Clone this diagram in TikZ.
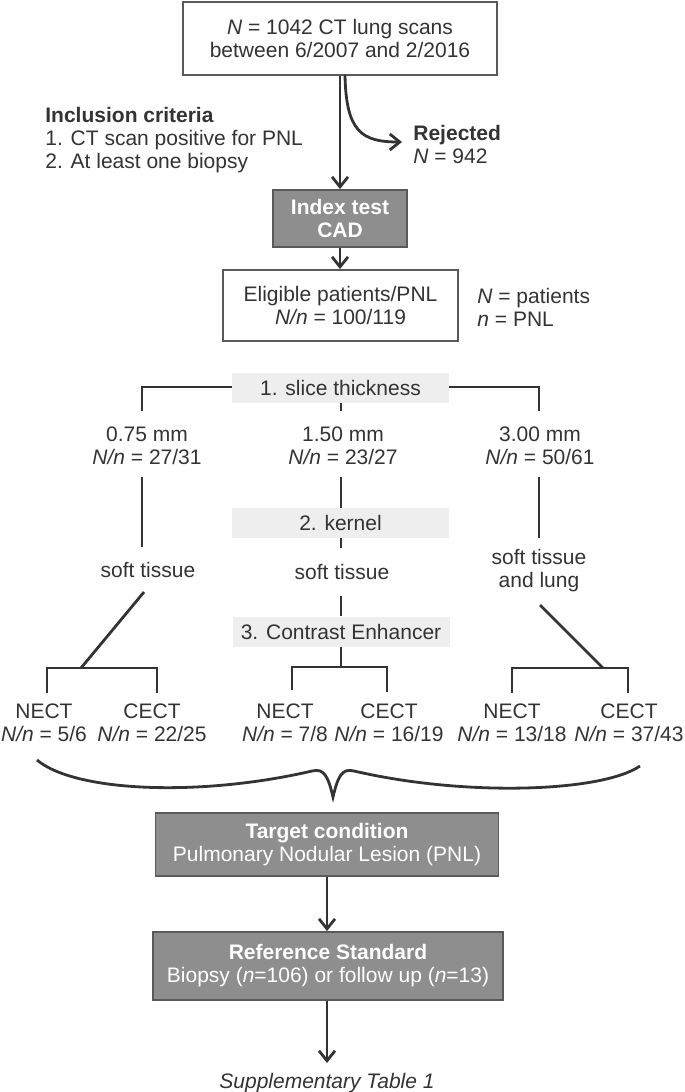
\documentclass[tikz,border=0pt]{standalone}
\usepackage{fontspec}
\setmainfont{Liberation Sans}
\usetikzlibrary{arrows.meta}
\definecolor{ink}{HTML}{333333}
\definecolor{darkfill}{HTML}{8E8E8E}
\definecolor{darkedge}{HTML}{5A5A5A}
\definecolor{lightfill}{HTML}{EEEEEE}
\begin{document}
\begin{tikzpicture}[x=0.5pt,y=-0.5pt,
  every node/.style={font=\fontsize{10.5}{11.5}\selectfont, text=ink, inner sep=0pt},
  whitebox/.style={draw=darkedge, line width=0.9pt, fill=white, align=center},
  darkbox/.style={draw=darkedge, line width=0.9pt, fill=darkfill, text=white, align=center},
  labelbox/.style={fill=lightfill, minimum width=108.5pt, minimum height=15pt},
  txt/.style={align=center},
  ltxt/.style={align=left, anchor=west},
  conn/.style={draw=ink, line width=1.4pt},
  arr/.style={conn, -{Straight Barb[length=5pt,width=8pt]}},
]
\useasboundingbox (0,0) rectangle (685,1092);

% top part
\node[whitebox, minimum width=157pt, minimum height=36.5pt] (top) at (340,38.5)
  {\textit{N} = 1042 CT lung scans\\between 6/2007 and 2/2016};
\node[ltxt] (incl) at (45,140) {\textbf{Inclusion criteria}\\1. CT scan positive for PNL\\2. At least one biopsy};
\node[ltxt] (rej) at (413,144) {\textbf{Rejected}\\\textit{N} = 942};
\coordinate (rejtip) at (402,142);
\coordinate (rejstart) at (345,75);
\node[darkbox, minimum width=67pt, minimum height=28.5pt] (index) at (340,218.5)
  {\textbf{Index test}\\\textbf{CAD}};
\node[whitebox, minimum width=117.5pt, minimum height=35.5pt] (elig) at (340.5,305.5)
  {Eligible patients/PNL\\\textit{N/n} = 100/119};
\node[ltxt] (legend) at (477,307.5) {\textit{N} = patients\\\textit{n} = PNL};

\draw[arr] (top.south) -- (index.north);
\draw[arr] (rejstart) .. controls (346,132) and (362,142) .. (rejtip);
\draw[arr] (index.south) -- (index.south |- elig.north);

% slice thickness
\node[labelbox] (slice) at (340.5,388) {1. slice thickness};
\coordinate (sL) at (142,411);
\coordinate (sM) at (341,411);
\coordinate (sR) at (539,411);
\draw[conn] (slice.west |- 0,387) -| (sL);
\draw[conn] (slice.east |- 0,387) -| (sR);
\draw[conn] (slice.south -| sM) -- (sM);

\node[txt] (t075) at (147,445.5) {0.75 mm\\\textit{N/n} = 27/31};
\node[txt] (t150) at (343,445.5) {1.50 mm\\\textit{N/n} = 23/27};
\node[txt] (t300) at (540,445.5) {3.00 mm\\\textit{N/n} = 50/61};

\node[labelbox] (kernel) at (340.5,523) {2. kernel};
\node[txt] (k1) at (148,570) {soft tissue};
\node[txt] (k2) at (342,572) {soft tissue};
\node[txt] (k3) at (539,571) {soft tissue\\and lung};

\coordinate (a1) at (142,477); \coordinate (a2) at (142,547);
\coordinate (b1) at (341,477);
\coordinate (c1) at (539,477); \coordinate (c2) at (539,538);
\draw[conn] (a1) -- (a2);
\draw[conn] (b1) -- (b1 |- kernel.north);
\draw[conn] (c1) -- (c2);
\coordinate (b2) at (341,548);
\draw[conn] (kernel.south -| b2) -- (b2);

\node[labelbox] (contrast) at (341,631.5) {3. Contrast Enhancer};
\coordinate (b3) at (341,596);
\draw[conn] (b3) -- (b3 |- contrast.north);

% brackets
\coordinate (Lj) at (81,668);
\coordinate (Mj) at (341,667);
\coordinate (Rj) at (603,668);
\coordinate (d1) at (144,592);
\coordinate (d2) at (540,605);
\draw[conn] (d1) -- (Lj);
\draw[conn] (d2) -- (Rj);
\draw[conn] (contrast.south -| Mj) -- (Mj);
\draw[conn] (47,693) -- (47,668) -- (157,668) -- (157,693);
\draw[conn] (292,690) -- (292,667) -- (387,667) -- (387,692);
\draw[conn] (512,693) -- (512,668) -- (628,668) -- (628,693);

\node[txt] (n1) at (44,723) {NECT\\\textit{N/n} = 5/6};
\node[txt] (n2) at (152,723) {CECT\\\textit{N/n} = 22/25};
\node[txt] (n3) at (285,723) {NECT\\\textit{N/n} = 7/8};
\node[txt] (n4) at (389,723) {CECT\\\textit{N/n} = 16/19};
\node[txt] (n5) at (512,723) {NECT\\\textit{N/n} = 13/18};
\node[txt] (n6) at (629,723) {CECT\\\textit{N/n} = 37/43};

% brace
\draw[conn] (37,760) .. controls (75,792) and (200,797) .. (312,771)
  .. controls (324,768) and (328,776) .. (333,797)
  .. controls (338,776) and (342,768) .. (354,771)
  .. controls (466,797) and (602,792) .. (640,766);

% bottom
\node[darkbox, minimum width=171.5pt, minimum height=31.5pt] (target) at (327,844.5)
  {\textbf{Target condition}\\Pulmonary Nodular Lesion (PNL)};
\node[darkbox, minimum width=175pt, minimum height=34pt] (ref) at (328,966)
  {\textbf{Reference Standard}\\Biopsy (\textit{n}=106) or follow up (\textit{n}=13)};
\node[txt] (supp) at (327,1083) {\textit{Supplementary Table 1}};
\coordinate (end) at (327,1063);
\draw[arr] (target.south -| end) -- (end |- ref.north);
\draw[arr] (ref.south -| end) -- (end);
\end{tikzpicture}
\end{document}
